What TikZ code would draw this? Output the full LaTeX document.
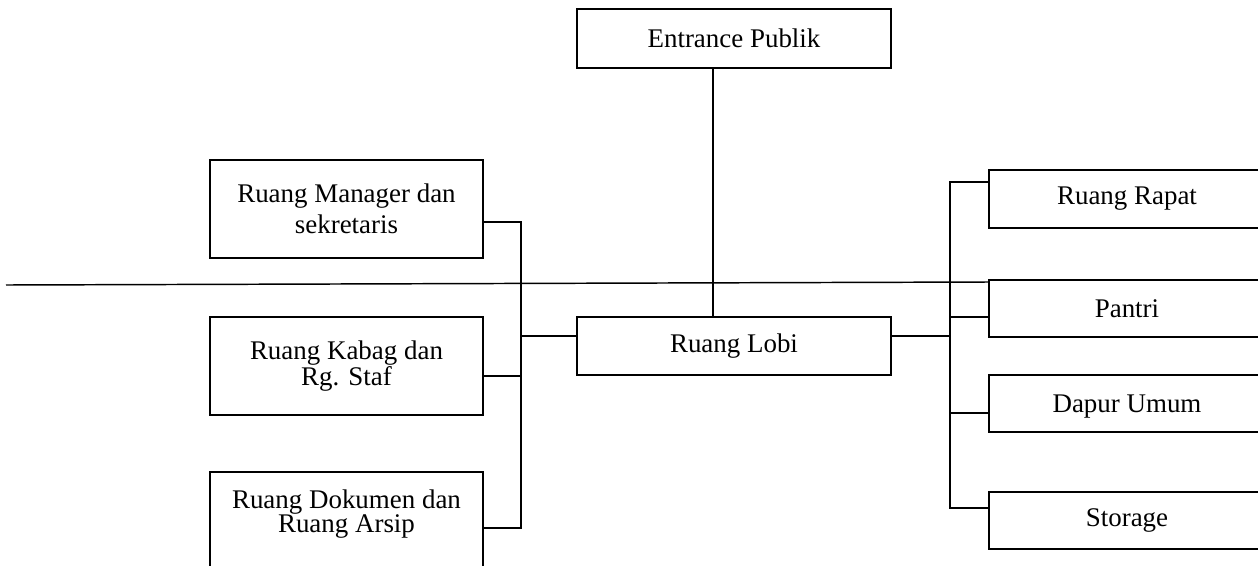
\documentclass[tikz,border=0pt]{standalone}
\usepackage{fontspec}
\setmainfont{Liberation Serif}
\begin{document}
\begin{tikzpicture}[x=0.75pt, y=-0.75pt,
  room/.style={draw, line width=1.5pt, rectangle, inner sep=0pt, align=center,
    font=\fontsize{20.2}{18.3}\selectfont},
  lbl/.style={inner sep=0pt, align=center, font=\fontsize{20.2}{18.3}\selectfont},
  wire/.style={line width=1.1pt}]
\useasboundingbox (0,0) rectangle (1258,565);
\clip (0,0) rectangle (1258,565);

% central column
\node[room, minimum width=235.5pt, minimum height=43.9pt] (ent) at (734,38.75) {Entrance Publik};
\node[room, minimum width=235.5pt, minimum height=43.5pt] (lobi) at (734,346) {Ruang Lobi};

% left column
\node[room, minimum width=204.75pt, minimum height=73.5pt] (mgr) at (346.5,209) {Ruang Manager dan\\[4pt]sekretaris};
\node[room, minimum width=204.75pt, minimum height=73.5pt] (kab) at (346.5,366) {Ruang Kabag dan\\Rg. Staf};
\node[room, minimum width=204.75pt, minimum height=96pt] (dok) at (346.5,536) {};
\node[lbl] (dokt) at (346.5,514) {Ruang Dokumen dan\\Ruang Arsip};

% right column
\node[room, minimum width=207pt, minimum height=43pt] (rap) at (1127,199) {Ruang Rapat};
\node[room, minimum width=207pt, minimum height=42.75pt] (pan) at (1127,308.5) {Pantri};
\node[room, minimum width=207pt, minimum height=42.75pt, text depth=0pt] (dap) at (1127,403.5) {Dapur Umum};
\node[room, minimum width=207pt, minimum height=42.75pt] (sto) at (1127,520.5) {Storage};

% bus lines
\coordinate (ex) at (713,0);
\coordinate (lb) at (521,0);
\coordinate (rb) at (950,0);
\coordinate (ls) at (6,285);
\coordinate (le) at (0,282);

% entrance to lobby
\draw[wire] (ex |- ent.south) -- (ex |- lobi.north);

% left branch
\draw[wire] (mgr.east |- 0,222) -- (lb |- 0,222) -- (lb |- 0,528) -- (dok.east |- 0,528);
\draw[wire] (kab.east |- 0,376) -- (lb |- 0,376);
\draw[wire] (lb |- 0,336) -- (lobi.west |- 0,336);

% right branch
\draw[wire] (lobi.east |- 0,336) -- (rb |- 0,336);
\draw[wire] (rap.west |- 0,182) -- (rb |- 0,182) -- (rb |- 0,508) -- (sto.west |- 0,508);
\draw[wire] (rb |- 0,317) -- (pan.west |- 0,317);
\draw[wire] (rb |- 0,413) -- (dap.west |- 0,413);

% long horizontal line
\draw[wire] (ls) -- (pan.west |- le);
\end{tikzpicture}
\end{document}
